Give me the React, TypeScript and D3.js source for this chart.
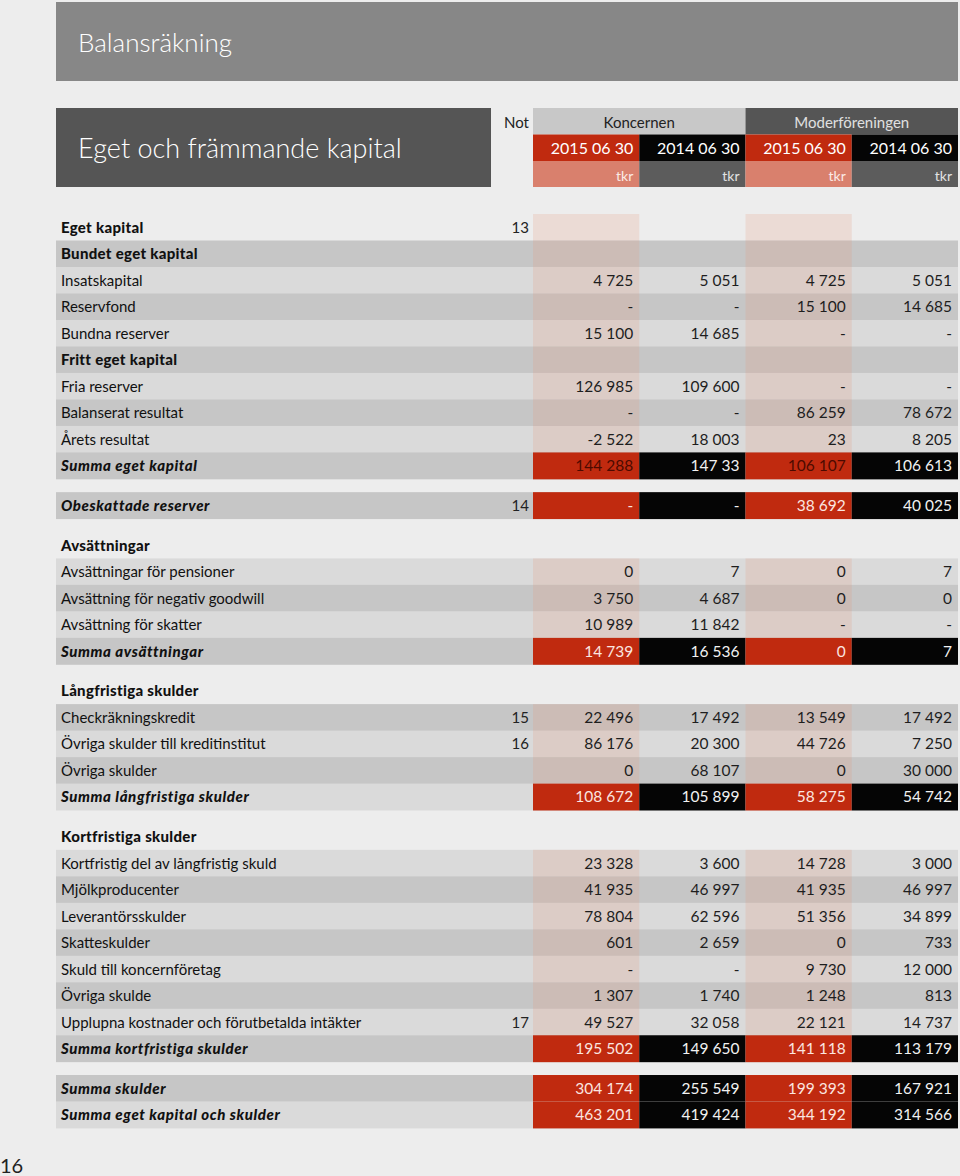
import React from 'react';
import * as d3 from 'd3';

const width = 960;
const height = 1176;

const title = 'Balansräkning';
const subtitle = 'Eget och främmande kapital';
const groups = ['Koncernen', 'Moderföreningen'];
const dates = ['2015 06 30', '2014 06 30', '2015 06 30', '2014 06 30'];
const units = ['tkr', 'tkr', 'tkr', 'tkr'];
const columns = ['k2015', 'k2014', 'm2015', 'm2014'];

const labels = [
  'Eget kapital', 'Bundet eget kapital', 'Insatskapital', 'Reservfond', 'Bundna reserver',
  'Fritt eget kapital', 'Fria reserver', 'Balanserat resultat', 'Årets resultat', 'Summa eget kapital',
  'Obeskattade reserver',
  'Avsättningar', 'Avsättningar för pensioner', 'Avsättning för negativ goodwill', 'Avsättning för skatter',
  'Summa avsättningar',
  'Långfristiga skulder', 'Checkräkningskredit', 'Övriga skulder till kreditinstitut', 'Övriga skulder',
  'Summa långfristiga skulder',
  'Kortfristiga skulder', 'Kortfristig del av långfristig skuld', 'Mjölkproducenter', 'Leverantörsskulder',
  'Skatteskulder', 'Skuld till koncernföretag', 'Övriga skulde', 'Upplupna kostnader och förutbetalda intäkter',
  'Summa kortfristiga skulder',
  'Summa skulder', 'Summa eget kapital och skulder',
];

// top / section = heading without band, sub = bold heading with band, item, sum
const kinds = [
  'top', 'sub', 'item', 'item', 'item', 'sub', 'item', 'item', 'item', 'sum',
  'sum',
  'section', 'item', 'item', 'item', 'sum',
  'section', 'item', 'item', 'item', 'sum',
  'section', 'item', 'item', 'item', 'item', 'item', 'item', 'item', 'sum',
  'sum', 'sum',
];

const notes = [
  '13', '', '', '', '', '', '', '', '', '',
  '14',
  '', '', '', '', '',
  '', '15', '16', '', '',
  '', '', '', '', '', '', '', '17', '',
  '', '',
];

// rows that start a new block (a small gap above them)
const blockStarts = [
  'Obeskattade reserver', 'Avsättningar', 'Långfristiga skulder', 'Kortfristiga skulder', 'Summa skulder',
];

const darkRows = [
  'Bundet eget kapital', 'Reservfond', 'Fritt eget kapital', 'Balanserat resultat', 'Summa eget kapital',
  'Obeskattade reserver', 'Avsättning för negativ goodwill', 'Summa avsättningar', 'Checkräkningskredit',
  'Övriga skulder', 'Mjölkproducenter', 'Skatteskulder', 'Övriga skulde', 'Summa kortfristiga skulder',
  'Summa skulder',
];

const k2015 = [
  '', '', '4 725', '-', '15 100', '', '126 985', '-', '-2 522', '144 288',
  '-',
  '', '0', '3 750', '10 989', '14 739',
  '', '22 496', '86 176', '0', '108 672',
  '', '23 328', '41 935', '78 804', '601', '-', '1 307', '49 527', '195 502',
  '304 174', '463 201',
];
const k2014 = [
  '', '', '5 051', '-', '14 685', '', '109 600', '-', '18 003', '147 33',
  '-',
  '', '7', '4 687', '11 842', '16 536',
  '', '17 492', '20 300', '68 107', '105 899',
  '', '3 600', '46 997', '62 596', '2 659', '-', '1 740', '32 058', '149 650',
  '255 549', '419 424',
];
const m2015 = [
  '', '', '4 725', '15 100', '-', '', '-', '86 259', '23', '106 107',
  '38 692',
  '', '0', '0', '-', '0',
  '', '13 549', '44 726', '0', '58 275',
  '', '14 728', '41 935', '51 356', '0', '9 730', '1 248', '22 121', '141 118',
  '199 393', '344 192',
];
const m2014 = [
  '', '', '5 051', '14 685', '-', '', '-', '78 672', '8 205', '106 613',
  '40 025',
  '', '7', '0', '-', '7',
  '', '17 492', '7 250', '30 000', '54 742',
  '', '3 000', '46 997', '34 899', '733', '12 000', '813', '14 737', '113 179',
  '167 921', '314 566',
];

const values: Record<string, string[]> = { k2015, k2014, m2015, m2014 };

const BG = '#ededed';
const RED = '#c02a0f';
const BLACK = '#050505';
const LIGHT = '#dadada';
const DARK = '#c6c6c6';
const FONT = 'Lato, "Noto Sans", sans-serif';

const left = 56;
const right = 958;
const gapUnits = 0.5;

// cumulative row positions in "row units"
const rowStart: number[] = [];
let acc = 0;
labels.forEach((l) => {
  if (blockStarts.includes(l)) acc += gapUnits;
  rowStart.push(acc);
  acc += 1;
});
const totalUnits = acc;

const y = d3.scaleLinear().domain([0, totalUnits]).range([214, 1128]);
const x = d3.scaleBand().domain(columns).range([533, right]);
const rowH = y(1) - y(0);

const App = () => {
  const bw = x.bandwidth();
  return (
    <svg width={width} height={height} style={{ position: 'absolute', left: 0, top: 0 }} fontFamily={FONT}>
      <rect width={width} height={height} fill={BG} />

      {/* title bars */}
      <rect x={left} y={2} width={right - left} height={79} fill="#878787" />
      <text x={78} y={52} fontSize={26} fontWeight={300} fill="#fff">{title}</text>
      <rect x={left} y={108} width={491 - left} height={79} fill="#555555" />
      <text x={78} y={158} fontSize={27} fontWeight={300} fill="#fff">{subtitle}</text>

      {/* column headers */}
      <text x={529} y={128} fontSize={15} textAnchor="end" fill="#222">Not</text>
      {groups.map((g, gi) => {
        const x0 = x(columns[gi * 2])!;
        return (
          <g key={g}>
            <rect x={x0} y={108} width={bw * 2} height={26.5} fill={gi === 0 ? '#c8c8c8' : '#555555'} />
            <text x={x0 + bw} y={128} fontSize={15} textAnchor="middle" fill={gi === 0 ? '#222' : '#e0e0e0'}>{g}</text>
          </g>
        );
      })}
      {columns.map((c, i) => (
        <g key={c}>
          <rect x={x(c)} y={134.5} width={bw} height={26.5} fill={i % 2 === 0 ? RED : BLACK} />
          <text x={x(c)! + bw - 6} y={154} fontSize={16} textAnchor="end" fill="#fff">{dates[i]}</text>
          <rect x={x(c)} y={161} width={bw} height={26} fill={i % 2 === 0 ? '#d9806d' : '#5c5c5c'} />
          <text x={x(c)! + bw - 6} y={181} fontSize={14} textAnchor="end" fill={i % 2 === 0 ? '#fbeae5' : '#e2e2e2'}>{units[i]}</text>
        </g>
      ))}

      {/* rows */}
      {labels.map((label, i) => {
        const kind = kinds[i];
        const top = y(rowStart[i]);
        const base = top + rowH / 2 + 5.5;
        const banded = kind !== 'top' && kind !== 'section';
        const isSum = kind === 'sum';
        const tinted = kind !== 'section' && !isSum;
        return (
          <g key={label}>
            {banded && (
              <rect x={left} y={top} width={right - left} height={rowH + 0.4} fill={darkRows.includes(label) ? DARK : LIGHT} />
            )}
            {columns.map((c, ci) => {
              const v = values[c][i];
              const redCol = ci % 2 === 0;
              let fill = 'none';
              if (isSum) fill = redCol ? RED : BLACK;
              else if (tinted && redCol) fill = 'rgba(232,150,120,0.2)';
              let txt = '#1e1e1e';
              if (isSum) txt = redCol ? (label === 'Summa eget kapital' ? '#4d0a00' : '#fbe6e0') : '#f2f2f2';
              return (
                <g key={c}>
                  {fill !== 'none' && <rect x={x(c)} y={top} width={bw} height={rowH + 0.4} fill={fill} />}
                  {v && (
                    <text x={x(c)! + bw - 6} y={base} fontSize={15.5} textAnchor="end" fill={txt}>{v}</text>
                  )}
                </g>
              );
            })}
            <text
              x={61}
              y={base}
              fontSize={15}
              fontWeight={kind === 'item' ? 400 : 900}
              fontStyle={isSum ? 'italic' : 'normal'}
              letterSpacing={kind === 'item' ? 0 : isSum ? 0.6 : 0.3}
              fill="#111"
            >
              {label}
            </text>
            {notes[i] && (
              <text x={529} y={base} fontSize={15} textAnchor="end" fill="#222">{notes[i]}</text>
            )}
          </g>
        );
      })}

      <text x={0} y={1173} fontSize={20} fill="#222">16</text>
    </svg>
  );
};

export default App;
